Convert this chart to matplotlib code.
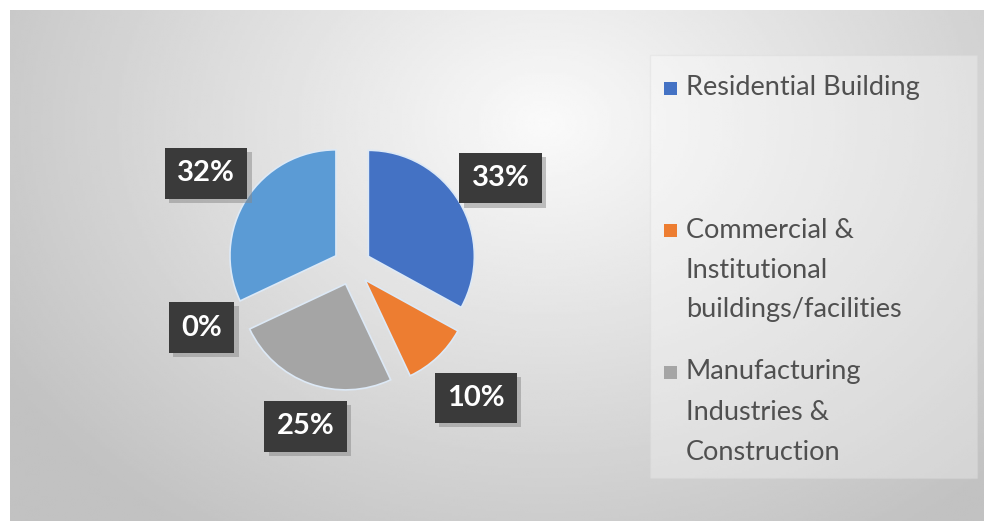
import numpy as np
import matplotlib
matplotlib.use("Agg")
import matplotlib.pyplot as plt
from matplotlib.patches import Rectangle
import matplotlib.patheffects as pe

plt.rcParams['font.family'] = ['Lato', 'DejaVu Sans']

# energy use by sector (%)
sectors = ["Residential Building",
           "Commercial &\nInstitutional\nbuildings/facilities",
           "Manufacturing\nIndustries &\nConstruction",
           "Other",
           "Transport"]
shares = [33, 10, 25, 0, 32]
colors = ["#4472C4", "#ED7D31", "#A5A5A5", "#FFC000", "#5B9BD5"]
legend_count = 3

W, H = 984, 521
fig = plt.figure(figsize=(W / 100, H / 100), dpi=100)
fig.patch.set_facecolor("white")
ax = fig.add_axes([0, 0, 1, 1])

# soft grey backdrop, lighter towards the upper middle
gx, gy = np.meshgrid(np.linspace(10, W, 400), np.linspace(0, H - 10, 220))
d = np.sqrt(((gx - 540) / 600) ** 2 + ((gy - 400) / 460) ** 2)
shade = np.clip(0.98 - 0.21 * d, 0.76, 0.98)
ax.imshow(shade, cmap="gray", vmin=0, vmax=1, extent=(10, W + 10, -10, H - 10),
          origin="lower", aspect="auto", zorder=0, interpolation="bilinear")

wedges, texts, autotexts = ax.pie(
    shares, colors=colors, startangle=90, counterclock=False,
    explode=[19] * len(shares), radius=106, center=(352, 255),
    autopct="%1.0f%%", pctdistance=1.45,
    wedgeprops=dict(edgecolor="#dde9f6", linewidth=1.2),
    textprops=dict(color="white", fontsize=21, fontweight="bold"))
for w, v in zip(wedges, shares):
    w.set_zorder(2)
    if v == 0:
        w.set_linewidth(0)

# pull the lower-left labels a little closer to the pie
nudges = [(0, 0), (6, -6), (12, 2), (6, 12), (0, 0)]
for t, (dx, dy) in zip(autotexts, nudges):
    x, y = t.get_position()
    t.set_position((x + dx, y + dy))
    t.set_zorder(5)
    t.set_bbox(dict(boxstyle="square,pad=0.42", facecolor="#3a3a3a",
                    edgecolor="none"))
    t.get_bbox_patch().set_path_effects(
        [pe.SimplePatchShadow(offset=(3, -3), shadow_rgbFace="#888888", alpha=0.5),
         pe.Normal()])

# legend panel
ax.add_patch(Rectangle((650, H - 478), 327, 423, facecolor="white", alpha=0.3,
                       edgecolor="#d6d6d6", linewidth=1, zorder=1))
first_lines = [88, 230, 372]
for name, col, y0 in zip(sectors[:legend_count], colors, first_lines):
    ax.add_patch(Rectangle((664, H - y0 - 7), 13, 13, facecolor=col,
                           edgecolor="none", zorder=3))
    for j, line in enumerate(name.split("\n")):
        ax.text(686, H - (y0 + 40 * j), line, fontsize=19.5, color="#505050",
                va="center", ha="left", zorder=3)

ax.set_xlim(0, W)
ax.set_ylim(0, H)
ax.set_aspect("auto")
ax.axis("off")

fig.savefig("out.png", dpi=100)
